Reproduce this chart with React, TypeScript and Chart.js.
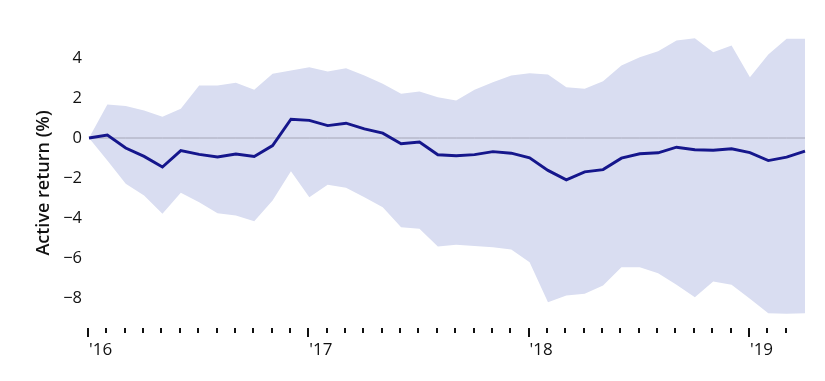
import React, { useEffect, useRef } from "react";
import { Chart, registerables } from "chart.js";

Chart.register(...registerables);

const months = [
  "2016-01","2016-02","2016-03","2016-04","2016-05","2016-06","2016-07","2016-08","2016-09","2016-10","2016-11","2016-12",
  "2017-01","2017-02","2017-03","2017-04","2017-05","2017-06","2017-07","2017-08","2017-09","2017-10","2017-11","2017-12",
  "2018-01","2018-02","2018-03","2018-04","2018-05","2018-06","2018-07","2018-08","2018-09","2018-10","2018-11","2018-12",
  "2019-01","2019-02","2019-03","2019-04",
];

const yearTickLabels = ["'16", "'17", "'18", "'19"];

const activeReturn = [
  0, 0.15, -0.5, -0.92, -1.45, -0.63, -0.82, -0.95, -0.8, -0.92,
  -0.38, 0.94, 0.88, 0.62, 0.74, 0.46, 0.24, -0.29, -0.2, -0.84,
  -0.89, -0.83, -0.68, -0.76, -0.99, -1.62, -2.09, -1.69, -1.58, -1.01,
  -0.79, -0.74, -0.46, -0.59, -0.61, -0.54, -0.73, -1.13, -0.96, -0.66,
];

const upperBound = [
  0, 1.67, 1.6, 1.38, 1.06, 1.46, 2.63, 2.63, 2.76, 2.41,
  3.21, 3.38, 3.54, 3.33, 3.49, 3.13, 2.71, 2.21, 2.33, 2.04,
  1.88, 2.41, 2.79, 3.13, 3.24, 3.18, 2.54, 2.46, 2.84, 3.63,
  4.04, 4.34, 4.88, 4.99, 4.29, 4.63, 3.04, 4.17, 4.96, 4.96,
];

const lowerBound = [
  0, -1.13, -2.29, -2.88, -3.79, -2.74, -3.21, -3.76, -3.88, -4.16,
  -3.13, -1.66, -2.96, -2.34, -2.49, -2.96, -3.46, -4.46, -4.54, -5.43,
  -5.34, -5.4, -5.46, -5.58, -6.21, -8.21, -7.88, -7.79, -7.38, -6.46,
  -6.46, -6.76, -7.34, -7.96, -7.18, -7.34, -8.04, -8.76, -8.79, -8.76,
];

const yTickValues = [-8, -6, -4, -2, 0, 2, 4];

const FONT = "'Open Sans', 'Noto Sans', sans-serif";
const TEXT = "#111111";

const tickMarks = {
  id: "tickMarks",
  afterDraw(chart: any) {
    const xs = chart.scales.x;
    const ctx = chart.ctx;
    const bottom = chart.chartArea.bottom;
    ctx.save();
    ctx.strokeStyle = "#111111";
    ctx.lineWidth = 2;
    for (let i = 0; i < months.length - 1; i++) {
      const px = Math.round(xs.getPixelForValue(i)) - 1;
      const major = months[i].endsWith("-01");
      ctx.beginPath();
      ctx.moveTo(px, bottom);
      ctx.lineTo(px, bottom + (major ? 9 : 5));
      ctx.stroke();
    }
    ctx.restore();
  },
};

export default function App() {
  const ref = useRef<HTMLCanvasElement | null>(null);

  useEffect(() => {
    document.body.style.margin = "0";
    const canvas = ref.current!;
    const chart = new Chart(canvas, {
      type: "line",
      data: {
        labels: months,
        datasets: [
          {
            label: "upper",
            data: upperBound,
            borderWidth: 0,
            pointRadius: 0,
            backgroundColor: "#d9ddf1",
            fill: "+1",
            order: 3,
          },
          {
            label: "lower",
            data: lowerBound,
            borderWidth: 0,
            pointRadius: 0,
            fill: false,
            order: 3,
          },
          {
            label: "zero",
            data: months.map(() => 0),
            borderColor: "#a4a5b6",
            borderWidth: 1,
            pointRadius: 0,
            fill: false,
            order: 2,
          },
          {
            label: "Active return",
            data: activeReturn,
            borderColor: "#15168c",
            borderWidth: 2.9,
            pointRadius: 0,
            fill: false,
            order: 1,
          },
        ],
      },
      options: {
        animation: false,
        responsive: false,
        maintainAspectRatio: false,
        layout: { padding: { top: 38, right: 20, bottom: 0, left: 0 } },
        plugins: { legend: { display: false }, tooltip: { enabled: false } },
        scales: {
          x: {
            type: "category",
            offset: false,
            grid: { display: false, drawTicks: false },
            border: { display: false },
            afterFit: (s: any) => {
              s.height = 53;
            },
            ticks: {
              autoSkip: false,
              maxRotation: 0,
              align: "start",
              padding: 12,
              color: TEXT,
              font: { family: FONT, size: 17 },
              callback: (_v: any, i: number) =>
                months[i].endsWith("-01") ? yearTickLabels[Math.floor(i / 12)] : "",
            },
          },
          y: {
            min: -9.5,
            max: 5,
            grid: { display: false, drawTicks: false },
            border: { display: false },
            afterBuildTicks: (s: any) => {
              s.ticks = yTickValues.map((v) => ({ value: v }));
            },
            afterFit: (s: any) => {
              s.width = 89;
            },
            ticks: {
              padding: 7,
              color: TEXT,
              font: { family: FONT, size: 16.5 },
              callback: (v: any) => (Number(v) < 0 ? "\u2212" + Math.abs(Number(v)) : String(v)),
            },
            title: {
              display: true,
              text: "Active return (%)",
              color: TEXT,
              font: { family: FONT, size: 18, weight: "600" },
              padding: { top: 33, bottom: 0 },
            },
          },
        },
      },
      plugins: [tickMarks],
    });
    return () => chart.destroy();
  }, []);

  return (
    <div style={{ width: 825, height: 381, background: "#ffffff" }}>
      <canvas ref={ref} width={825} height={381} style={{ display: "block" }} />
    </div>
  );
}
